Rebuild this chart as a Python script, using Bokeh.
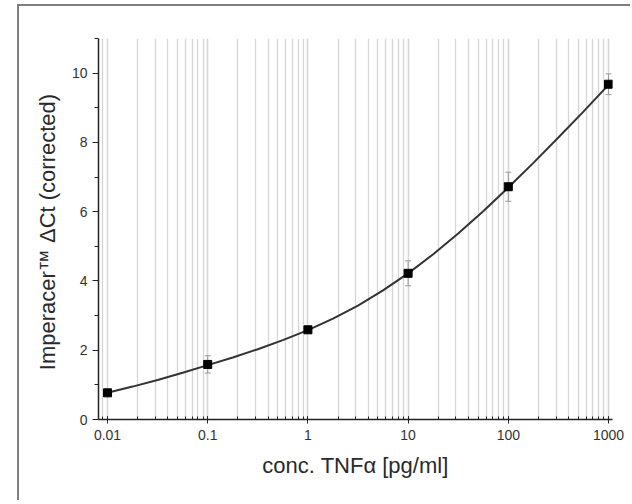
from bokeh.plotting import figure
from bokeh.models import (Range1d, ColumnDataSource, Whisker, TeeHead, LogTicker,
                          FixedTicker, CustomJSTickFormatter)
from bokeh.embed import file_html
from bokeh.resources import INLINE

# data
conc = [0.01, 0.1, 1, 10, 100, 1000]
delta_ct = [0.77, 1.59, 2.59, 4.22, 6.72, 9.68]
err = [0.06, 0.25, 0.1, 0.36, 0.42, 0.3]

# fitted curve, read at quarter decades
fit_x = [0.01, 0.0178, 0.0316, 0.0562, 0.1, 0.178, 0.316, 0.562, 1, 1.78, 3.16, 5.62,
         10, 17.8, 31.6, 56.2, 100, 178, 316, 562, 1000]
fit_y = [0.77, 0.95, 1.14, 1.35, 1.57, 1.79, 2.03, 2.29, 2.58, 2.91, 3.29, 3.73,
         4.22, 4.77, 5.37, 6.01, 6.70, 7.41, 8.14, 8.89, 9.66]

y_major = [0, 2, 4, 6, 8, 10]
y_minor = [1, 3, 5, 7, 9, 11]

FONT = "Liberation Sans"

p = figure(width=613, height=496, x_axis_type="log",
           x_range=Range1d(0.00813, 1096), y_range=Range1d(0, 11),
           output_backend="svg", toolbar_location=None,
           min_border_left=79, min_border_right=20,
           min_border_top=32, min_border_bottom=83)
p.margin = (4, 0, 0, 17)
p.styles = {"border-left": "2px solid #7f7f7f", "border-top": "2px solid #7f7f7f"}
p.outline_line_color = None
p.background_fill_color = "white"
p.border_fill_color = "white"

# grid: vertical lines at all log ticks
p.xgrid.grid_line_color = "#d6d6d6"
p.xgrid.minor_grid_line_color = "#d6d6d6"
p.xgrid.grid_line_width = 1.3
p.xgrid.minor_grid_line_width = 1.3
p.ygrid.grid_line_color = None

# x axis
xa = p.xaxis[0]
xa.ticker = LogTicker(num_minor_ticks=10)
xa.formatter = CustomJSTickFormatter(code="return Number(tick.toPrecision(3)).toString();")
xa.axis_label = "conc. TNFα [pg/ml]"
xa.axis_label_text_font = FONT
xa.axis_label_text_font_size = "22px"
xa.axis_label_text_font_style = "normal"
xa.axis_label_text_color = "#2a2a2a"
xa.axis_label_standoff = 10
xa.major_label_text_font = FONT
xa.major_label_text_font_size = "14px"
xa.major_label_text_color = "#333333"
xa.major_label_standoff = 6
xa.axis_line_width = 1.5
xa.axis_line_color = "#222222"
xa.major_tick_in = 3
xa.major_tick_out = 4
xa.minor_tick_in = 3
xa.minor_tick_out = 0
xa.major_tick_line_color = "#222222"
xa.minor_tick_line_color = "#222222"

# y axis
ya = p.yaxis[0]
ya.ticker = FixedTicker(ticks=y_major, minor_ticks=y_minor)
ya.axis_label = "Imperacer™  ΔCt (corrected)"
ya.axis_label_text_font = FONT
ya.axis_label_text_font_size = "22px"
ya.axis_label_text_font_style = "normal"
ya.axis_label_text_color = "#2a2a2a"
ya.axis_label_standoff = 9
ya.major_label_text_font = FONT
ya.major_label_text_font_size = "14px"
ya.major_label_text_color = "#333333"
ya.major_label_standoff = 5
ya.axis_line_width = 1.5
ya.axis_line_color = "#222222"
ya.major_tick_in = 0
ya.major_tick_out = 6
ya.minor_tick_in = 0
ya.minor_tick_out = 4
ya.major_tick_line_color = "#222222"
ya.minor_tick_line_color = "#222222"

# fit curve
p.line(fit_x, fit_y, line_color="#333333", line_width=2)

# error bars
src = ColumnDataSource(dict(
    x=conc, y=delta_ct,
    lo=[v - e for v, e in zip(delta_ct, err)],
    hi=[v + e for v, e in zip(delta_ct, err)]))
w = Whisker(source=src, base="x", upper="hi", lower="lo", dimension="height",
            line_color="#999999", line_width=1,
            upper_head=TeeHead(size=6, line_color="#999999"),
            lower_head=TeeHead(size=6, line_color="#999999"))
p.add_layout(w)

# data points
p.scatter("x", "y", source=src, marker="square", size=8,
          fill_color="black", line_color="black")

open("out.html", "w").write(file_html(p, INLINE))
